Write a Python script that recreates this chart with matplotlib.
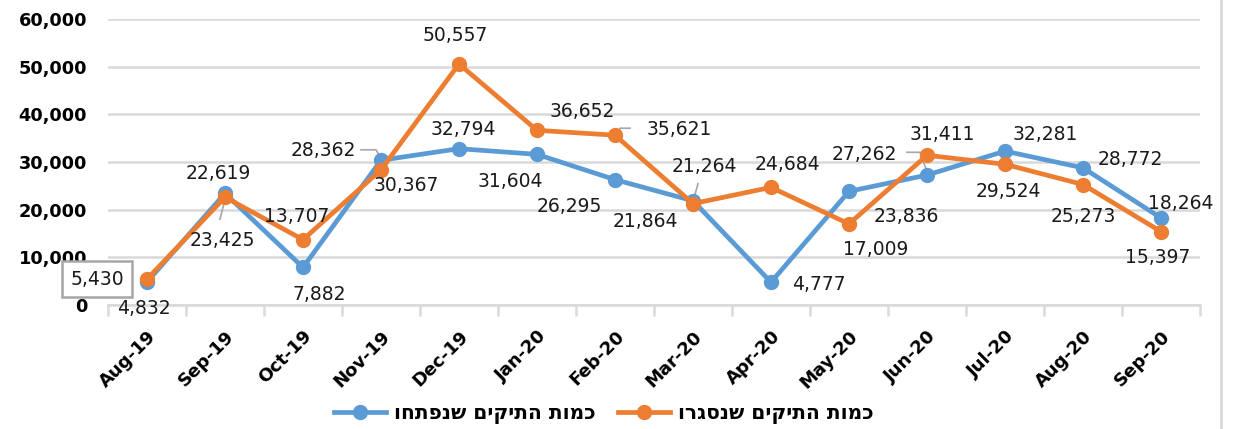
import matplotlib
matplotlib.use("Agg")
import matplotlib.pyplot as plt
from matplotlib.lines import Line2D

months = ["Aug-19", "Sep-19", "Oct-19", "Nov-19", "Dec-19", "Jan-20", "Feb-20",
          "Mar-20", "Apr-20", "May-20", "Jun-20", "Jul-20", "Aug-20", "Sep-20"]
opened = [4832, 23425, 7882, 30367, 32794, 31604, 26295,
          21864, 4777, 23836, 27262, 32281, 28772, 18264]
closed = [5430, 22619, 13707, 28362, 50557, 36652, 35621,
          21264, 24684, 17009, 31411, 29524, 25273, 15397]
label_opened = "כמות התיקים שנפתחו"
label_closed = "כמות התיקים שנסגרו"
yticks = [0, 10000, 20000, 30000, 40000, 50000, 60000]

# label offsets (pixels) relative to each point
off_opened = [(-3, -27), (-3, -47), (16, -27), (25, -25), (4, 19), (-27, -27), (-46, -27),
              (-48, -21), (48, -2), (57, -25), (-63, 21), (40, 17), (47, 8), (20, 14)]
off_closed = [(-50, 0), (-7, 24), (-6, 23), (-58, 19), (-4, 29), (45, 19), (64, 6),
              (11, 37), (16, 23), (27, -26), (15, 21), (3, -27), (0, -32), (-3, -26)]

BLUE = "#5b9bd5"
ORANGE = "#ed7d31"
GRID = "#d9d9d9"

plt.rcParams['font.family'] = ['DejaVu Sans']

fig = plt.figure(figsize=(12.4, 4.29), dpi=100)
ax = fig.add_axes([108 / 1240, 1 - 305 / 429, (1200 - 108) / 1240, (305 - 19) / 429])

x = list(range(len(months)))
ax.plot(x, opened, color=BLUE, lw=3.4, marker="o", ms=10, zorder=3)
ax.plot(x, closed, color=ORANGE, lw=3.4, marker="o", ms=10, zorder=4)

ax.set_xlim(-0.5, len(months) - 0.5)
ax.set_ylim(0, 60000)
ax.set_yticks(yticks)
ax.set_yticklabels([f"{v:,}" for v in yticks], fontsize=12.8, fontweight="bold")
ax.grid(axis="y", color=GRID, lw=1.8)
ax.set_axisbelow(True)
for s in ["left", "right", "top"]:
    ax.spines[s].set_visible(False)
ax.spines["bottom"].set_color(GRID)
ax.spines["bottom"].set_linewidth(1.8)
ax.tick_params(axis="y", length=0, pad=15)

ax.set_xticks(x)
ax.set_xticklabels(months, rotation=45, ha="right", rotation_mode="anchor",
                   fontsize=13, fontweight="bold")
ax.tick_params(axis="x", which="major", length=0, pad=16)
ax.set_xticks([i - 0.5 for i in range(len(months) + 1)], minor=True)
ax.tick_params(axis="x", which="minor", length=8, width=1.8, color=GRID)

for xi, v, (dx, dy) in zip(x, opened, off_opened):
    ax.annotate(f"{v:,}", (xi, v), xytext=(dx, dy), textcoords="offset pixels",
                ha="center", va="center", fontsize=13.5, color="#1a1a1a", zorder=5)
for i, (xi, v, (dx, dy)) in enumerate(zip(x, closed, off_closed)):
    bbox = None
    if i == 0:
        bbox = dict(boxstyle="square,pad=0.45", fc="white", ec="#a6a6a6", lw=1.8)
    ax.annotate(f"{v:,}", (xi, v), xytext=(dx, dy), textcoords="offset pixels",
                ha="center", va="center", fontsize=13.5, color="#1a1a1a", zorder=5,
                bbox=bbox)

# leader lines (pixel offsets from points)
def leader(xi, v, pts):
    disp = ax.transData.transform((xi, v))
    xs = [disp[0] + p[0] for p in pts]
    ys = [disp[1] + p[1] for p in pts]
    inv = ax.transData.inverted()
    d = [inv.transform((a, b)) for a, b in zip(xs, ys)]
    ax.plot([p[0] for p in d], [p[1] for p in d], color="#a6a6a6", lw=1.2, zorder=2.5,
            clip_on=False)

fig.canvas.draw()
leader(1, closed[1], [(1, 2), (-5, -22)])
leader(3, closed[3], [(-20, 20), (-5, 20), (2, 8)])
leader(6, closed[6], [(3, 2), (5, 7), (15, 7)])
leader(7, closed[7], [(0, 2), (5, 20)])
leader(10, closed[10], [(-20, 3), (-7, 3), (1, -19)])

handles = [Line2D([0], [0], color=BLUE, lw=3.4, marker="o", ms=10),
           Line2D([0], [0], color=ORANGE, lw=3.4, marker="o", ms=10)]
fig.legend(handles, [label_opened[::-1], label_closed[::-1]], loc="center",
           bbox_to_anchor=(0.487, 1 - 414 / 429), ncol=2, frameon=False,
           prop=dict(size=14.5, weight="bold"), handlelength=2.6, columnspacing=1.1,
           handletextpad=0.4)

fig.add_artist(Line2D([1221 / 1240, 1221 / 1240], [0, 1], color=GRID, lw=2))

fig.savefig("out.png", dpi=100, facecolor="white")
